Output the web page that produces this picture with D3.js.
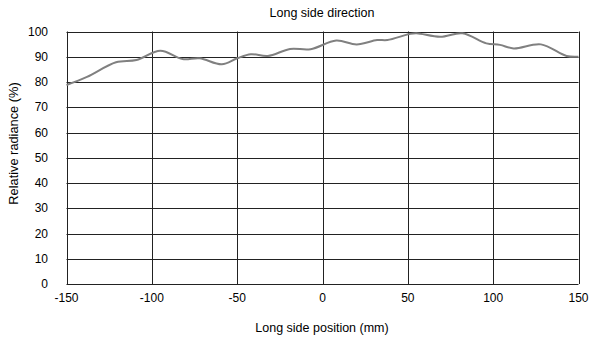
<!DOCTYPE html>
<html>
<head>
<script src="https://d3js.org/d3.v7.min.js"></script>
<style>
  body { margin: 0; background: #fff; }
  text { font-family: "Liberation Sans", Arial, sans-serif; fill: #000; }
</style>
</head>
<body>
<svg width="590" height="340"></svg>
<script>
const positions = [-150, -138, -121, -109, -95, -82, -72, -59, -50, -42, -32, -19, -7, 8, 20, 32, 38, 51, 55, 69, 82, 96, 104, 112, 128, 143, 150];
const radiance  = [78.8, 82, 87.8, 88.7, 92.4, 89.1, 89.4, 87.0, 89.4, 91.0, 90.3, 93.1, 93.0, 96.4, 94.9, 96.6, 96.6, 99.0, 99.3, 97.9, 99.3, 95.3, 94.7, 93.3, 94.9, 90.3, 90];
const xTicks = [-150, -100, -50, 0, 50, 100, 150];
const yTicks = [0, 10, 20, 30, 40, 50, 60, 70, 80, 90, 100];

const svg = d3.select('svg');
const m = {left: 66.5, right: 578.5, top: 31.5, bottom: 284};

const x = d3.scaleLinear().domain([-150, 150]).range([m.left, m.right]);
const y = d3.scaleLinear().domain([0, 100]).range([m.bottom, m.top]);

const grid = svg.append('g');
grid.selectAll('line.h')
  .data(yTicks)
  .enter()
  .append('line')
  .attr('x1', m.left).attr('x2', m.right)
  .attr('y1', d => Math.round(y(d)) + 0.5).attr('y2', d => Math.round(y(d)) + 0.5)
  .style('stroke', '#222').style('stroke-width', 1);
grid.selectAll('line.v')
  .data(xTicks)
  .enter()
  .append('line')
  .attr('x1', d => Math.round(x(d)) + 0.5).attr('x2', d => Math.round(x(d)) + 0.5)
  .attr('y1', m.top).attr('y2', m.bottom)
  .style('stroke', '#222').style('stroke-width', 1);

svg.append('g')
  .selectAll('text')
  .data(yTicks)
  .enter()
  .append('text')
  .attr('x', 48)
  .attr('y', d => y(d) + 4)
  .attr('text-anchor', 'end')
  .style('font-size', '12px')
  .text(d => d);

svg.append('g')
  .selectAll('text')
  .data(xTicks)
  .enter()
  .append('text')
  .attr('x', d => x(d))
  .attr('y', 302)
  .attr('text-anchor', 'middle')
  .style('font-size', '12px')
  .text(d => d);

const line = d3.line()
  .x((d, i) => x(positions[i]))
  .y(d => y(d))
  .curve(d3.curveCatmullRom);

svg.append('path')
  .datum(radiance)
  .attr('d', line)
  .style('fill', 'none')
  .style('stroke', '#808080')
  .style('stroke-width', 2);

svg.append('text')
  .attr('x', 322).attr('y', 17)
  .attr('text-anchor', 'middle')
  .style('font-size', '12.5px')
  .text('Long side direction');

svg.append('text')
  .attr('x', 322).attr('y', 332)
  .attr('text-anchor', 'middle')
  .style('font-size', '12.5px')
  .text('Long side position (mm)');

svg.append('text')
  .attr('transform', 'translate(18,143.5) rotate(-90)')
  .attr('text-anchor', 'middle')
  .style('font-size', '12.8px')
  .text('Relative radiance (%)');
</script>
</body>
</html>
